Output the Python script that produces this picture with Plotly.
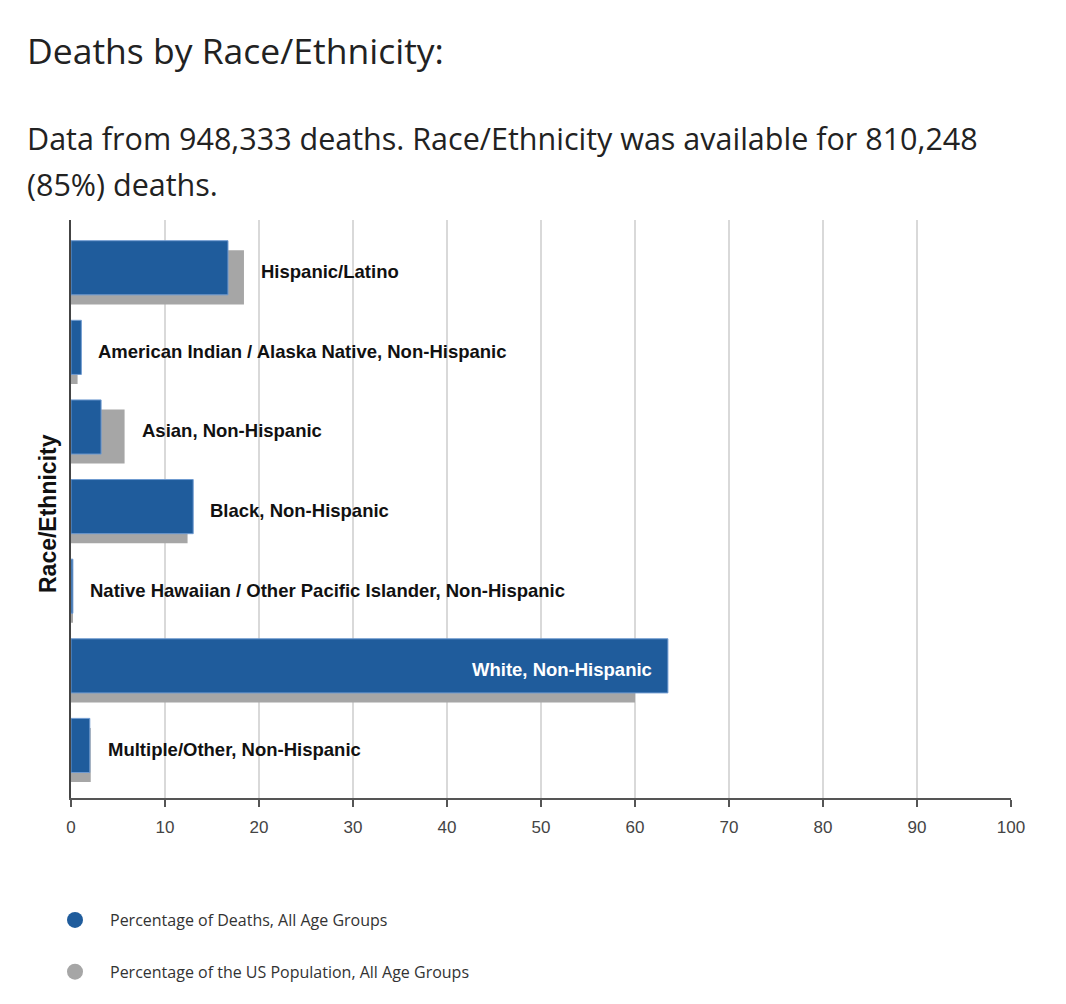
import plotly.graph_objects as go

groups = [
    "Hispanic/Latino",
    "American Indian / Alaska Native, Non-Hispanic",
    "Asian, Non-Hispanic",
    "Black, Non-Hispanic",
    "Native Hawaiian / Other Pacific Islander, Non-Hispanic",
    "White, Non-Hispanic",
    "Multiple/Other, Non-Hispanic",
]
pct_deaths = [16.7, 1.1, 3.2, 13.0, 0.2, 63.5, 2.0]
pct_population = [18.4, 0.7, 5.7, 12.4, 0.2, 60.0, 2.1]

name_deaths = "Percentage of Deaths, All Age Groups"
name_pop = "Percentage of the US Population, All Age Groups"

BLUE = "#1f5c9c"
GRAY = "#a6a6a6"

# page puts the figure 8px in from the window corner
OFF = 8
W, H = 1066, 1004
L, T = 71 - OFF, 220 - OFF
R, B = W - (1011 - OFF), H - (798 - OFF)
pw, ph = W - L - R, H - T - B


def px_x(x):
    return (x - OFF - L) / pw


def px_y(y):
    return (H - B - (y - OFF)) / ph


fig = go.Figure()

# population bar sits behind, shifted a bit down
fig.add_trace(go.Bar(
    y=groups, x=pct_population, orientation="h",
    marker=dict(color=GRAY, line=dict(width=0)),
    width=0.68, offset=-0.27, showlegend=False, hoverinfo="skip",
))
fig.add_trace(go.Bar(
    y=groups, x=pct_deaths, orientation="h",
    marker=dict(color=BLUE, line=dict(color="#6f9ad0", width=1)),
    width=0.68, offset=-0.39, showlegend=False,
))

# legend entries as round markers
for nm, col in [(name_deaths, BLUE), (name_pop, GRAY)]:
    fig.add_trace(go.Scatter(
        x=[None], y=[None], mode="markers", name=nm, legendgroup=nm,
        marker=dict(symbol="circle", size=20, color=col),
    ))

label_font = dict(family="Liberation Sans, Arial, sans-serif", size=18.5, color="#111")
for g, d, p in zip(groups, pct_deaths, pct_population):
    if g.startswith("White"):
        fig.add_annotation(x=d, y=g, text="<b>%s</b>" % g, showarrow=False,
                           xanchor="right", xshift=-14,
                           font=dict(label_font, color="white"))
    else:
        fig.add_annotation(x=max(d, p), y=g, text="<b>%s</b>" % g, showarrow=False,
                           xanchor="left", xshift=15, font=label_font)

title_font = dict(family="Open Sans, sans-serif", color="#222")
fig.add_annotation(xref="paper", yref="paper", x=px_x(25), y=px_y(50),
                   xanchor="left", yanchor="middle", showarrow=False,
                   text="Deaths by Race/Ethnicity:", font=dict(title_font, size=35.5))
fig.add_annotation(xref="paper", yref="paper", x=px_x(25), y=px_y(138),
                   xanchor="left", yanchor="middle", showarrow=False,
                   text="Data from 948,333 deaths. Race/Ethnicity was available for 810,248",
                   font=dict(title_font, size=30.5))
fig.add_annotation(xref="paper", yref="paper", x=px_x(25), y=px_y(184),
                   xanchor="left", yanchor="middle", showarrow=False,
                   text="(85%) deaths.", font=dict(title_font, size=30.5))
fig.add_annotation(xref="paper", yref="paper", x=px_x(48), y=px_y(514),
                   xanchor="center", yanchor="middle", showarrow=False, textangle=-90,
                   text="<b>Race/Ethnicity</b>",
                   font=dict(family="Liberation Sans, Arial, sans-serif", size=23, color="#111"))

fig.update_layout(
    width=W, height=H,
    margin=dict(l=L, r=R, t=T, b=B),
    paper_bgcolor="white", plot_bgcolor="white",
    barmode="overlay",
    xaxis=dict(
        range=[0, 100], dtick=10, showgrid=True, gridcolor="#d9d9d9", gridwidth=1.5,
        zeroline=False, showline=True, linecolor="#555", linewidth=2,
        ticks="outside", ticklen=7, tickcolor="#555", tickwidth=1.5,
        ticklabelstandoff=6,
        tickfont=dict(family="Liberation Sans, Arial, sans-serif", size=17, color="#444"),
    ),
    yaxis=dict(
        type="category", range=[6.61, -0.65], showticklabels=False,
        showgrid=False, zeroline=False, showline=True, linecolor="#444", linewidth=1.5,
        ticks="",
    ),
    legend=dict(
        x=px_x(40), y=px_y(903), xanchor="left", yanchor="top",
        orientation="v", tracegroupgap=28, itemwidth=60,
        font=dict(family="Open Sans, sans-serif", size=16, color="#333"),
    ),
    showlegend=True,
)

fig.write_html("out.html")
